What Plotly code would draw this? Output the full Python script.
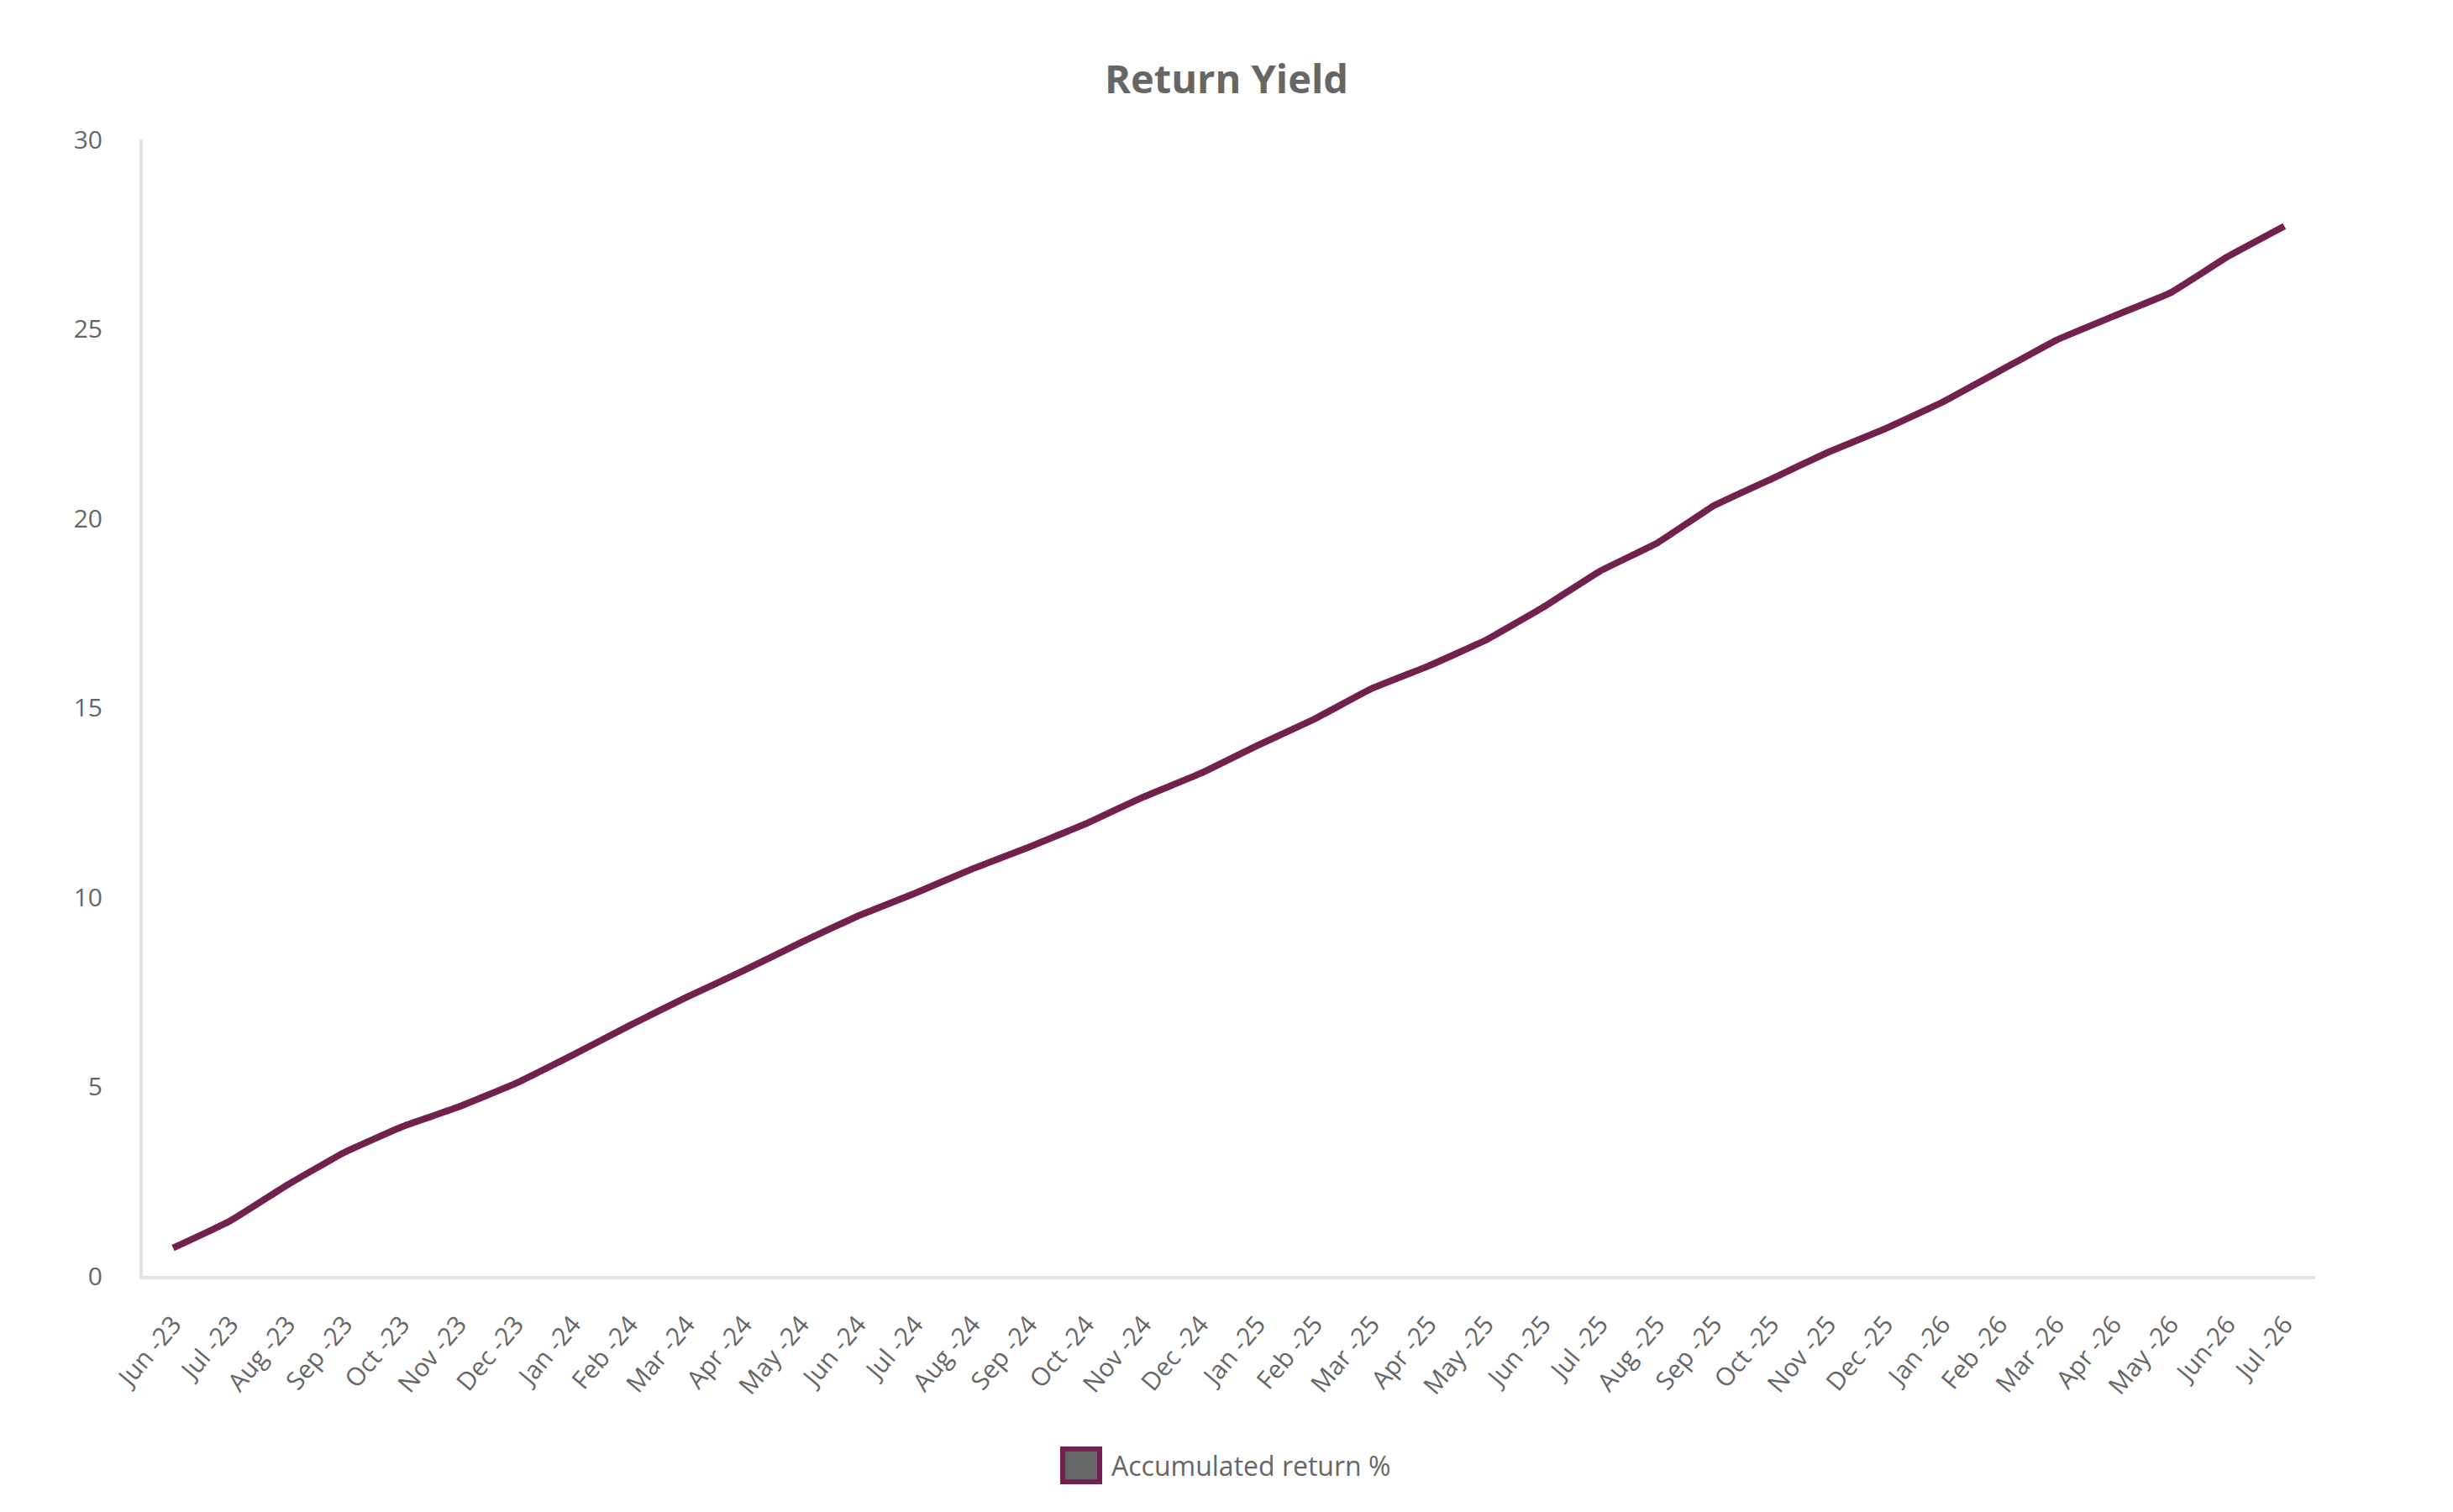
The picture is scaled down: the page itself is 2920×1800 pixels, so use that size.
import plotly.graph_objects as go

months = ["Jun -23", "Jul -23", "Aug -23", "Sep -23", "Oct -23", "Nov -23", "Dec -23",
          "Jan -24", "Feb -24", "Mar -24", "Apr -24", "May -24", "Jun -24", "Jul -24",
          "Aug -24", "Sep -24", "Oct -24", "Nov -24", "Dec -24",
          "Jan -25", "Feb -25", "Mar -25", "Apr -25", "May -25", "Jun -25", "Jul -25",
          "Aug -25", "Sep -25", "Oct -25", "Nov -25", "Dec -25",
          "Jan -26", "Feb -26", "Mar -26", "Apr -26", "May -26", "Jun-26", "Jul -26"]

accumulated_return = [0.74, 1.45, 2.40, 3.26, 3.93, 4.46, 5.08,
                      5.83, 6.61, 7.36, 8.06, 8.80, 9.50, 10.10,
                      10.74, 11.32, 11.94, 12.64, 13.26,
                      14.00, 14.70, 15.50, 16.10, 16.78, 17.64, 18.60,
                      19.34, 20.33, 21.03, 21.74, 22.36,
                      23.06, 23.88, 24.70, 25.33, 25.95, 26.90, 27.71]

y_ticks = [0, 5, 10, 15, 20, 25, 30]

series_name = "Accumulated return %"
line_color = "#72214F"
text_color = "#666666"
axis_color = "#E4E4E4"

W, H = 2920, 1800
L, R, T, B = 162, 172, 158, 289
PW, PH = W - L - R, H - T - B

fig = go.Figure()
fig.add_trace(go.Scatter(
    x=months, y=accumulated_return, mode="lines", name=series_name,
    line=dict(color=line_color, width=8, shape="spline", smoothing=0.3),
    showlegend=False,
))

fig.update_layout(
    width=W, height=H,
    margin=dict(l=L, r=R, t=T, b=B),
    paper_bgcolor="white", plot_bgcolor="white",
    font=dict(family="Open Sans", color=text_color, size=30),
    title=dict(text="<b>Return Yield</b>", x=0.5 - 8 / W, xanchor="center",
               y=1 - 87 / H, yanchor="middle",
               font=dict(family="Open Sans", size=47, color=text_color)),
    xaxis=dict(
        type="category", range=[-0.53, 37.54],
        showgrid=False, zeroline=False,
        showline=True, linecolor=axis_color, linewidth=4,
        ticks="", tickangle=-50, ticklabelstandoff=24,
        tickfont=dict(size=30, color=text_color),
    ),
    yaxis=dict(
        range=[0, 30], tickvals=y_ticks,
        showgrid=False, zeroline=False,
        showline=True, linecolor=axis_color, linewidth=4,
        ticks="", ticklabelstandoff=38,
        tickfont=dict(size=30, color=text_color),
    ),
    showlegend=False,
)

# legend box + label (pixel positions converted to paper coords)
bottom_px = H - B
fig.add_shape(type="rect", xref="paper", yref="paper",
              x0=(1257 - L) / PW, x1=(1301 - L) / PW,
              y0=-(1756 - bottom_px) / PH, y1=-(1717 - bottom_px) / PH,
              fillcolor="#666666", line=dict(color=line_color, width=6))
fig.add_annotation(xref="paper", yref="paper",
                   x=(1313 - L) / PW, y=-(1736 - bottom_px) / PH,
                   xanchor="left", yanchor="middle", showarrow=False,
                   text=series_name, font=dict(size=32, color=text_color))

fig.write_html("out.html")
